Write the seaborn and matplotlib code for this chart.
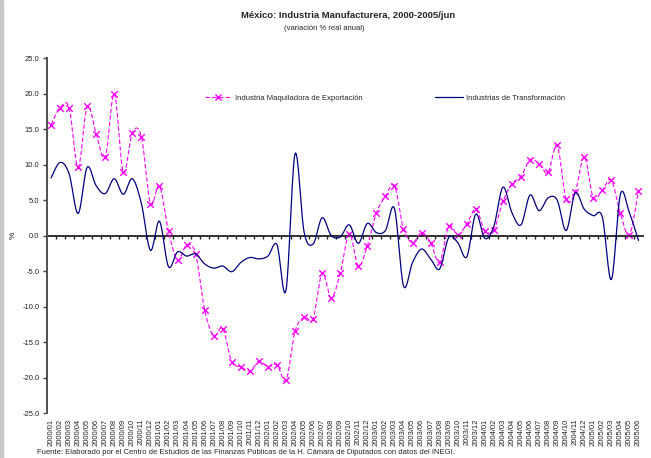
import numpy as np
import pandas as pd
import matplotlib
matplotlib.use("Agg")
import matplotlib.pyplot as plt
import seaborn as sns
from matplotlib.patches import Rectangle

# Data (variación % real anual)
years = ["2000", "2001", "2002", "2003", "2004", "2005"]
months = ["01", "02", "03", "04", "05", "06", "07", "08", "09", "10", "11", "12"]
periods = [f"{y}/{m}" for y in years for m in months][:66]

maquiladora = [15.6, 18.0, 18.0, 9.6, 18.2, 14.3, 11.0, 20.0, 8.9, 14.5,
               13.9, 4.5, 7.0, 0.6, -3.5, -1.3, -2.6, -10.5, -14.1, -13.1,
               -17.8, -18.5, -19.1, -17.7, -18.5, -18.2, -20.4, -13.5, -11.5, -11.7,
               -5.3, -8.8, -5.3, 0.2, -4.3, -1.5, 3.2, 5.5, 7.0, 0.9,
               -1.0, 0.4, -1.0, -3.8, 1.3, 0.1, 1.6, 3.7, 0.7, 0.8,
               4.8, 7.3, 8.3, 10.7, 10.1, 8.9, 12.7, 5.1, 6.1, 11.1,
               5.3, 6.4, 7.8, 3.1, 0.1, 6.3]

transformacion = [8.1, 10.3, 8.7, 3.1, 9.6, 7.0, 5.9, 8.0, 5.8, 8.0,
                  4.5, -2.1, 2.0, -4.4, -2.3, -2.9, -2.6, -4.0, -4.6, -4.3,
                  -5.1, -3.8, -3.1, -3.3, -2.9, -1.3, -7.7, 11.5, 0.5, -1.2,
                  2.5, 0.0, -0.2, 1.5, -1.1, 1.7, 0.4, 0.7, 3.8, -7.1,
                  -3.8, -1.9, -3.3, -4.7, -0.3, -1.0, -3.0, 3.0, -0.4, 1.3,
                  6.8, 3.2, 1.5, 5.7, 3.5, 5.3, 5.0, 0.7, 6.0, 3.7,
                  2.8, 2.6, -6.2, 5.8, 3.2, -0.7]

lbl_maq = "Industria Maquiladora de Exportación"
lbl_tra = "Industrias de Transformación"

df = pd.DataFrame({"periodo": periods, "maq": maquiladora, "tra": transformacion})
df["pos"] = np.arange(len(df))


def smooth(x, y, n=16):
    # Excel-style smoothed line (Bezier through the points)
    x = np.asarray(x, float)
    y = np.asarray(y, float)
    px = np.concatenate([[x[0]], x, [x[-1]]])
    py = np.concatenate([[y[0]], y, [y[-1]]])
    t = np.linspace(0, 1, n, endpoint=False)[:, None]
    xs, ys = [], []
    for i in range(1, len(px) - 2):
        p0 = np.array([px[i], py[i]])
        p3 = np.array([px[i + 1], py[i + 1]])
        c1 = p0 + (np.array([px[i + 1], py[i + 1]]) - np.array([px[i - 1], py[i - 1]])) / 6
        c2 = p3 - (np.array([px[i + 2], py[i + 2]]) - np.array([px[i], py[i]])) / 6
        pts = ((1 - t) ** 3) * p0 + 3 * ((1 - t) ** 2) * t * c1 + 3 * (1 - t) * t ** 2 * c2 + t ** 3 * p3
        xs.extend(pts[:, 0])
        ys.extend(pts[:, 1])
    xs.append(x[-1])
    ys.append(y[-1])
    return np.array(xs), np.array(ys)


sns.set_style("white")
plt.rcParams["font.family"] = ["Liberation Sans", "DejaVu Sans"]

fig = plt.figure(figsize=(6.51, 4.58), dpi=100)
ax = fig.add_axes([46.5 / 651, 1 - 413 / 458, 596.5 / 651, 355 / 458])

magenta = "#FF00FF"
navy = "#000080"

xm, ym = smooth(df["pos"], df["maq"])
xt, yt = smooth(df["pos"], df["tra"])

sns.lineplot(x=xm, y=ym, ax=ax, color=magenta, lw=0.8, sort=False,
             linestyle=(0, (4, 2)))
sns.scatterplot(data=df, x="pos", y="maq", ax=ax, marker="x", color=magenta,
                s=22, linewidth=1.0)
sns.lineplot(x=xt, y=yt, ax=ax, color=navy, lw=0.9, sort=False)

# legend handles
h1, = ax.plot([], [], color=magenta, lw=0.8, linestyle=(0, (4, 2)), marker="x",
              markersize=5, markeredgewidth=1.0, label=lbl_maq)
h2, = ax.plot([], [], color=navy, lw=0.9, label=lbl_tra)
ax.legend(handles=[h1, h2], ncol=2, frameon=False, fontsize=5.5,
          loc="center", bbox_to_anchor=(0.567, 0.887), columnspacing=9.5,
          handlelength=3.6, handletextpad=0.4)

ax.set_xlim(-0.5, len(df) - 0.5)
ax.set_ylim(-25, 25)
ax.set_yticks(np.arange(-25, 26, 5))
ax.set_yticklabels([f"{v:.1f}" for v in np.arange(-25, 26, 5)], fontsize=5.5,
                   color="#222222")
ax.tick_params(axis="y", direction="out", length=3, width=1, color="#404040", pad=2,
               left=True)

for s in ["top", "right"]:
    ax.spines[s].set_visible(False)
ax.spines["left"].set_color("#505050")
ax.spines["left"].set_linewidth(1.4)
ax.spines["bottom"].set_position(("data", 0))
ax.spines["bottom"].set_color("#303030")
ax.spines["bottom"].set_linewidth(1.4)
ax.spines["bottom"].set_zorder(1)

# tick marks between categories on the zero line
ax.set_xticks([])
ax.set_xticks(np.arange(0.5, len(df) - 0.5, 1), minor=True)
ax.tick_params(axis="x", which="minor", direction="out", length=2.2, width=1,
               color="#202020", bottom=True)
ax.set_xlabel("")
ax.set_ylabel("%", fontsize=6, rotation=90, labelpad=4)

# category labels at the bottom of the plot
sec = ax.secondary_xaxis(0.0)
sec.set_xticks(df["pos"])
sec.set_xticklabels(df["periodo"], rotation=90, fontsize=5.5, color="#222222")
sec.tick_params(length=0, pad=4)
sec.spines["bottom"].set_visible(False)

fig.text(348 / 651, 1 - 15 / 458, "México: Industria Manufacturera, 2000-2005/jun",
         ha="center", va="center", fontsize=6.8, fontweight="bold")
fig.text(324 / 651, 1 - 28 / 458, "(variación % real anual)",
         ha="center", va="center", fontsize=5.5)
fig.text(37 / 651, 1 - 453 / 458,
         "Fuente: Elaborado por el Centro de Estudios de las Finanzas Públicas de la H. "
         "Cámara de Diputados con datos del INEGI.",
         ha="left", va="center", fontsize=5.5)

fig.patches.append(Rectangle((0, 0), 3 / 651, 1, transform=fig.transFigure,
                             color="#c8c8c8", zorder=0))

fig.savefig("out.png", dpi=100)
